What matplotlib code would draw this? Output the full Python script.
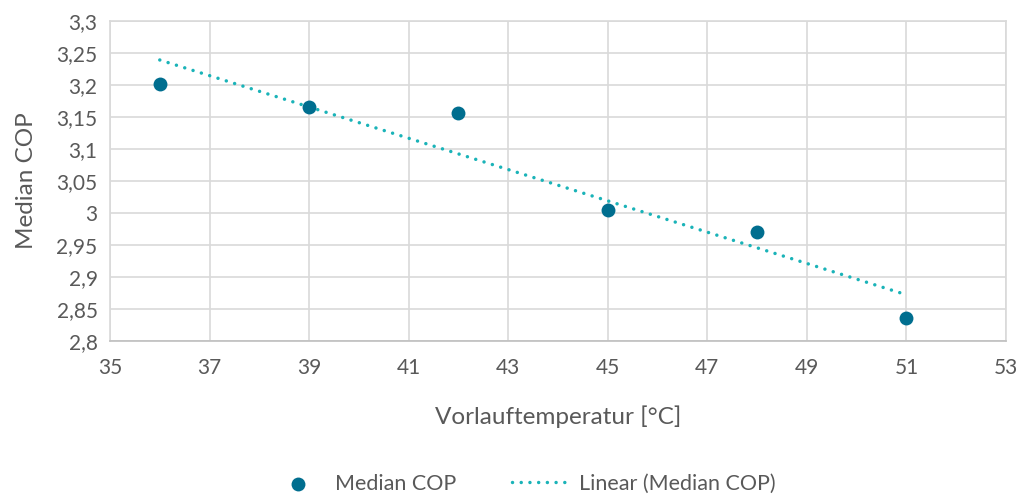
import numpy as np
import matplotlib.pyplot as plt

# Daten
vorlauf = [36, 39, 42, 45, 48, 51]
median_cop = [3.202, 3.165, 3.157, 3.004, 2.970, 2.836]

x_ticks = [35, 37, 39, 41, 43, 45, 47, 49, 51, 53]
y_ticks = [2.8, 2.85, 2.9, 2.95, 3.0, 3.05, 3.1, 3.15, 3.2, 3.25, 3.3]
y_tick_labels = ['2,8', '2,85', '2,9', '2,95', '3', '3,05', '3,1', '3,15', '3,2', '3,25', '3,3']

plt.rcParams['font.family'] = ['Lato', 'DejaVu Sans']
text_col = '#595959'
grid_col = '#d9d9d9'

fig = plt.figure(figsize=(10.19, 4.96), dpi=100)
ax = fig.add_axes([110 / 1019, 1 - 341 / 496, (1006 - 110) / 1019, (341 - 21) / 496])

# lineare Trendlinie
coef = np.polyfit(vorlauf, median_cop, 1)
trend_x = np.array([vorlauf[0], vorlauf[-1]])
trend_y = np.polyval(coef, trend_x)

ax.plot(trend_x, trend_y, color='#1ab3b8', linestyle=(0, (0.01, 2.5)), linewidth=2.5,
        dash_capstyle='round', label='Linear (Median COP)', zorder=2)
ax.scatter(vorlauf, median_cop, s=100, color='#006e8f', label='Median COP', zorder=3,
           linewidths=0)

ax.set_xlim(35, 53)
ax.set_ylim(2.8, 3.3)
ax.set_xticks(x_ticks)
ax.set_yticks(y_ticks)
ax.set_yticklabels(y_tick_labels)
ax.grid(True, color=grid_col, linewidth=1.2)
ax.set_axisbelow(True)
for s in ['top', 'right', 'left']:
    ax.spines[s].set_color(grid_col)
    ax.spines[s].set_linewidth(1.2)
ax.spines['bottom'].set_color('#bfbfbf')
ax.spines['bottom'].set_linewidth(1.2)
ax.tick_params(length=0, labelsize=15, labelcolor=text_col, pad=9)
ax.tick_params(axis='x', pad=12)

ax.set_xlabel('Vorlauftemperatur [°C]', fontsize=17.5, color=text_col, labelpad=20)
ax.set_ylabel('Median COP', fontsize=17.5, color=text_col, labelpad=14)

handles, labels = ax.get_legend_handles_labels()
fig.legend(handles[::-1], labels[::-1], loc='center', bbox_to_anchor=(522 / 1019, 1 - 484 / 496),
           ncol=2, frameon=False, fontsize=15.5, labelcolor=text_col, columnspacing=2.6,
           handlelength=2.8, handletextpad=0.3)

fig.savefig('out.png', dpi=100)
